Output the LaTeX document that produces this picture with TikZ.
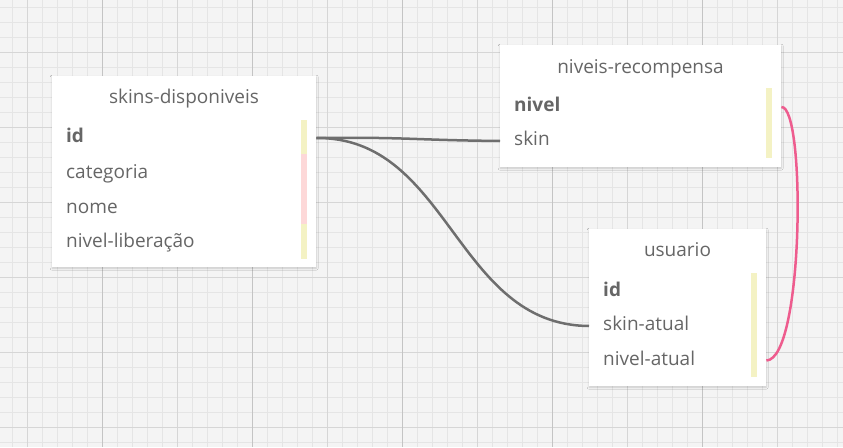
\documentclass[tikz,border=0pt]{standalone}
\usepackage{fontspec}
\setmainfont{Open Sans}
\usetikzlibrary{shadows.blur}
\definecolor{gridbg}{HTML}{F4F4F4}
\definecolor{gridminor}{HTML}{E5E5E5}
\definecolor{gridmajor}{HTML}{D6D6D6}
\definecolor{gridmain}{HTML}{C4C4C4}
\definecolor{txtgray}{HTML}{666666}
\definecolor{linkgray}{HTML}{6E6E6E}
\definecolor{linkpink}{HTML}{EE5C8E}
\definecolor{barylw}{HTML}{F4F2C4}
\definecolor{barpink}{HTML}{FDD8D8}
\tikzset{
  tablebox/.style={fill=white, inner sep=0pt, anchor=north west,
    blur shadow={shadow xshift=0pt, shadow yshift=-1pt, shadow blur radius=2pt, shadow opacity=18}},
  tabletitle/.style={text=txtgray, font=\fontsize{19}{22}\selectfont, inner sep=0pt,
    text height=14pt, text depth=5pt},
  field/.style={text=txtgray, font=\fontsize{19}{22}\selectfont, anchor=west, align=left,
    inner xsep=14pt, inner ysep=0pt, text height=14pt, text depth=5pt},
  keyfield/.style={field, font=\fontsize{19}{22}\selectfont\bfseries},
  link/.style={line width=2.5pt, linkgray},
  pinklink/.style={line width=2.5pt, linkpink},
}
\begin{document}
\begin{tikzpicture}[x=1pt, y=-1pt]
  \useasboundingbox (0,0) rectangle (843,447);
  \fill[gridbg] (0,0) rectangle (843,447);
  % grid
  \foreach \x in {12,27,...,842} \draw[gridminor, line width=1pt] (\x,0) -- (\x,447);
  \foreach \y in {7,22,...,446} \draw[gridminor, line width=1pt] (0,\y) -- (843,\y);
  \foreach \x in {27,102,...,842} \draw[gridmajor, line width=1pt] (\x,0) -- (\x,447);
  \foreach \y in {52,127,...,446} \draw[gridmajor, line width=1pt] (0,\y) -- (843,\y);
  \foreach \x in {102,252,...,842} \draw[gridmain, line width=1pt] (\x,0) -- (\x,447);

  % skins-disponiveis
  \node[tablebox, minimum width=264pt, minimum height=191pt] (sd) at (52,76) {};
  \node[tabletitle] (sdtitle) at (184,99) {skins-disponiveis};
  \node[keyfield, text width=236pt] (sdid) at (52,138) {id};
  \node[field, text width=236pt] (sdcat) at (52,174) {categoria};
  \node[field, text width=236pt] (sdnome) at (52,209) {nome};
  \node[field, text width=236pt] (sdnivel) at (52,243) {nivel-liberação};
  \fill[barylw] (301,120) rectangle (307,154);
  \fill[barpink] (301,154) rectangle (307,224);
  \fill[barylw] (301,224) rectangle (307,259);

  % niveis-recompensa
  \node[tablebox, minimum width=281pt, minimum height=122pt] (nr) at (500,45) {};
  \node[tabletitle] (nrtitle) at (640.5,69) {niveis-recompensa};
  \node[keyfield, text width=253pt] (nrnivel) at (500,107) {nivel};
  \node[field, text width=253pt] (nrskin) at (500,141) {skin};
  \fill[barylw] (766,88) rectangle (772,158);

  % usuario
  \node[tablebox, minimum width=177pt, minimum height=157pt] (us) at (589,229) {};
  \node[tabletitle] (ustitle) at (677.5,252) {usuario};
  \node[keyfield, text width=149pt] (usid) at (589,291.5) {id};
  \node[field, text width=149pt] (usskin) at (589,326) {skin-atual};
  \node[field, text width=149pt] (usnivel) at (589,360.5) {nivel-atual};
  \fill[barylw] (751,273) rectangle (757,377);

  % relacoes
  \draw[link] (sdid.east) .. controls (410,137) and (410,140) .. (nrskin.west);
  \draw[link] (sdid.east) .. controls (450,137) and (455,325) .. (usskin.west);
  \draw[pinklink] (nrnivel.east) .. controls (806,106) and (804,359) .. (usnivel.east);
\end{tikzpicture}
\end{document}
